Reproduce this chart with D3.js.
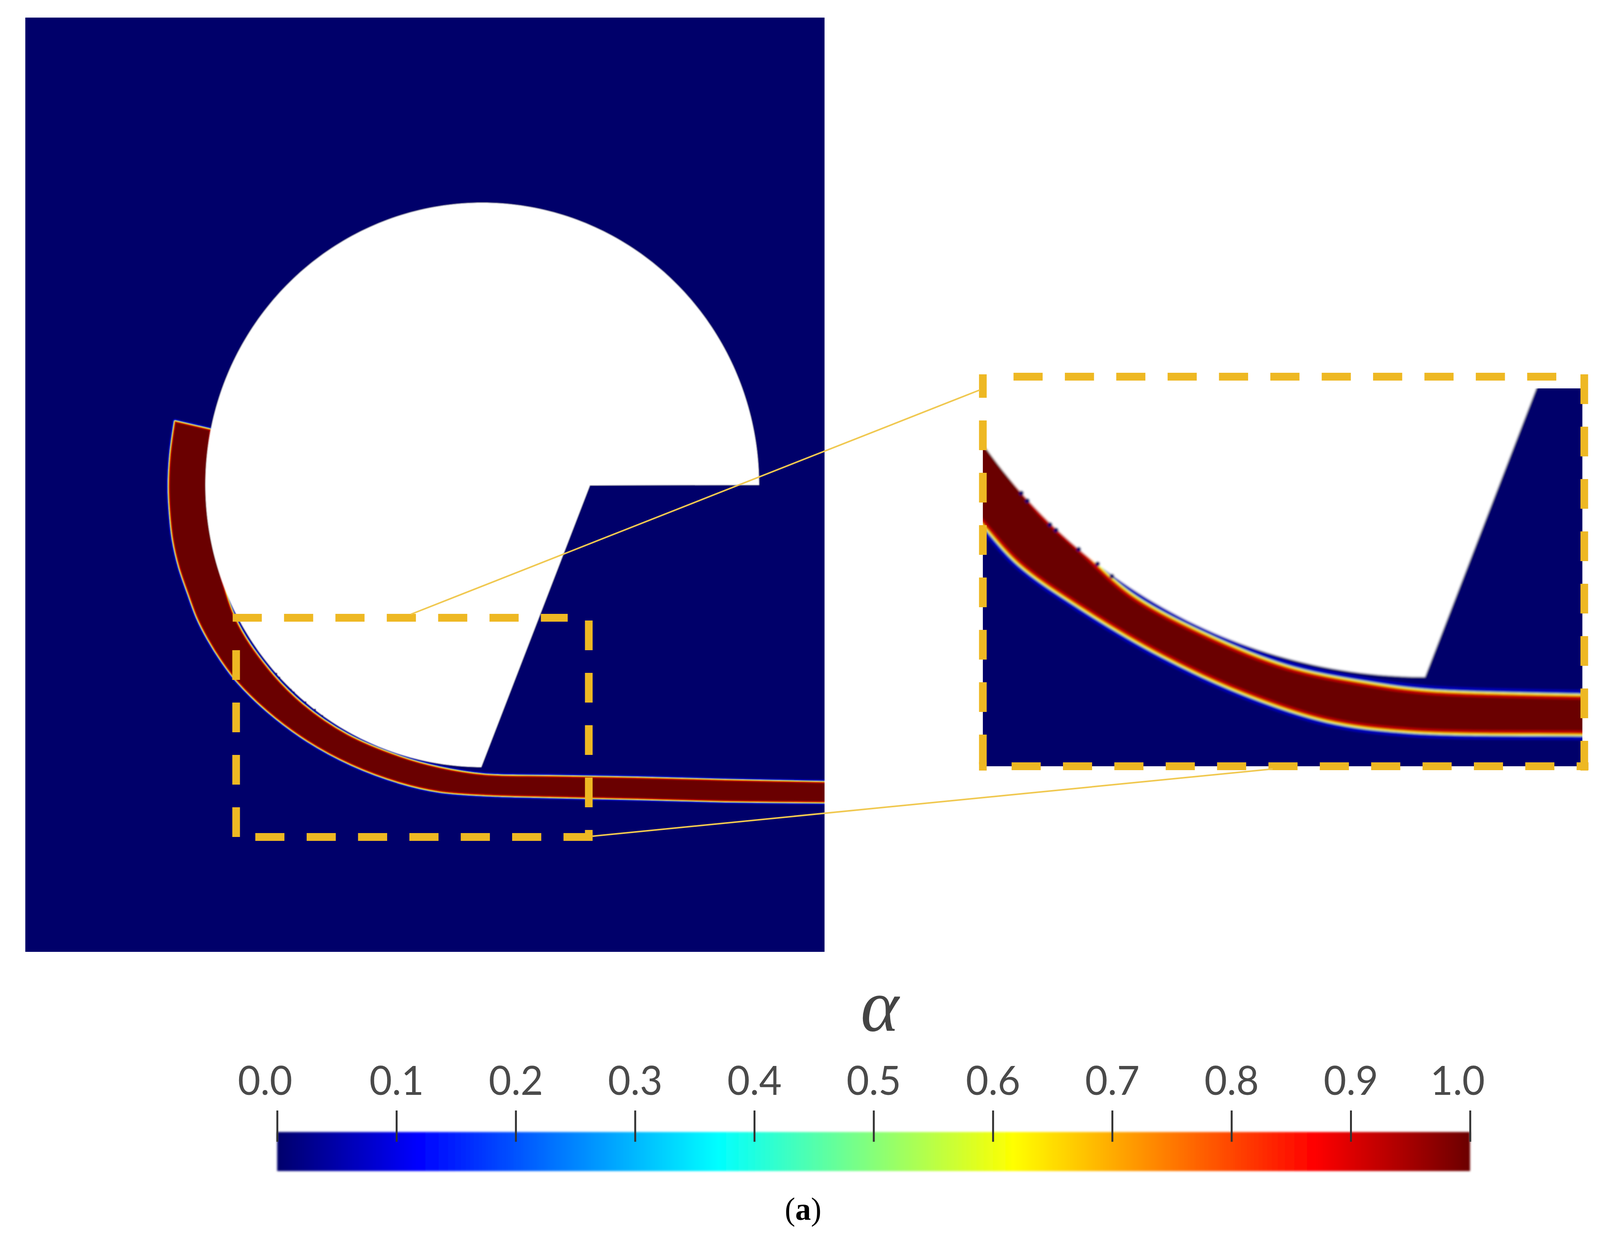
<!DOCTYPE html>
<html>
<head>
<meta charset="utf-8">
<script src="https://cdn.jsdelivr.net/npm/d3@7"></script>
<style>
    html, body { margin: 0; background: #fff; overflow: hidden; }
    svg { display: block; width: 100vw; height: 100vh; }
</style>
</head>
<body>
<script>
// picture size
var w = 4174;
var h = 3176;

// ---- data, in units (1 unit = width of the domain / 2085) ----

// colour map
var alphaStops = [0, 0.118, 0.37, 0.617, 0.87, 1];
var alphaColors = ["#00006b", "#0000ff", "#00ffff", "#ffff00", "#ff0000", "#6b0000"];
var tickValues = [0, 0.1, 0.2, 0.3, 0.4, 0.5, 0.6, 0.7, 0.8, 0.9, 1];

// domain
var domainWidth = 2085;
var domainHeight = 2391;

// the solid body: circle with a wedge cut out
var circleCx = 1192;
var circleCy = 1196;
var circleR = 722;
var arcStartDeg = 0;
var arcEndDeg = -269.8;
var notchX = [1473, 1915];
var notchY = [1197, 1196];

// liquid film edges, main view
var outerX = [391, 379, 375, 378, 386, 402, 426, 449, 477, 512, 552, 632, 736, 851, 977, 1080, 1195, 1367, 1597, 1826, 2120];
var outerY = [1034, 1120, 1200, 1266, 1337, 1406, 1475, 1536, 1590, 1645, 1697, 1774, 1850, 1911, 1957, 1980, 1989, 1994, 1999, 2005, 2008];
var innerX = [483, 472, 489, 546, 632, 724, 839, 977, 1080, 1195, 1367, 1597, 1826, 2120];
var innerY = [1055, 1200, 1337, 1536, 1666, 1758, 1835, 1892, 1920, 1938, 1942, 1946, 1952, 1958];

// liquid film edges as they stand in the zoomed view
var zoomOuterX = [570, 604, 653, 734, 843, 951, 1060, 1168, 1398, 1450];
var zoomOuterY = [1680, 1717, 1770, 1826, 1889, 1938, 1973, 1987, 1991, 1992];
var zoomInnerX = [560, 604, 680, 734, 799, 897, 1005, 1114, 1195, 1398, 1450];
var zoomInnerY = [1560, 1610, 1706, 1755, 1812, 1864, 1906, 1928, 1938, 1944, 1945];

// interface smear: alpha level and how far it reaches outside the film
var smearAlpha = [0.06, 0.2, 0.6, 0.75, 0.9];
var smearReach = [7, 3.6, 3, 1.4, 0.6];

// cyan streak under the film near the outlet
var streakAlpha = 0.36;
var streakX = [1900, 2120];
var streakY = [2009, 2011];
var zoomStreakX = [1341, 1400];
var zoomStreakY = [1997, 1997];

// rough spots on the wall of the solid
var roughX = [655, 663, 693, 701, 731, 756, 775];
var roughY = [1679, 1689, 1720, 1727, 1752, 1771, 1787];

// ---- scales ----
var color = d3.scaleLinear().domain(alphaStops).range(alphaColors);

var mainX = d3.scaleLinear().domain([0, domainWidth]).range([66, 2151]);
var mainY = d3.scaleLinear().domain([0, domainHeight]).range([45, 2436]);
var insetX = d3.scaleLinear().domain([604, 1398]).range([2564, 4128]);
var insetY = d3.scaleLinear().domain([1543, 2034]).range([994, 1961]);
var barX = d3.scaleLinear().domain([0, 1]).range([723, 3835]);

// the window can be narrower than the picture, so fit the whole picture to it
var svg = d3.select("body").append("svg")
    .attr("viewBox", "0 0 " + w + " " + h)
    .attr("preserveAspectRatio", "none");

var defs = svg.append("defs");

// the source is a soft photo, slight blur on the field
[["soft", 1.2], ["softer", 2.5], ["barSoft", 2.5]].forEach(function (f) {
    defs.append("filter")
        .attr("id", f[0])
        .attr("x", "-2%").attr("y", "-5%")
        .attr("width", "104%").attr("height", "110%")
        .append("feGaussianBlur")
        .attr("stdDeviation", f[1]);
});

// draws the blue domain, the film and the white solid through a pair of scales
function drawField(id, xs, ys, k, blur, oX, oY, iX, iY, sX, sY) {
    var x0 = xs.range()[0], x1 = xs.range()[1];
    var y0 = ys.range()[0], y1 = ys.range()[1];

    defs.append("clipPath").attr("id", id)
        .append("rect")
        .attr("x", x0).attr("y", y0)
        .attr("width", x1 - x0).attr("height", y1 - y0);

    var clipped = svg.append("g").attr("clip-path", "url(#" + id + ")");
    var g = clipped.append("g").attr("filter", "url(#" + blur + ")");

    g.append("rect")
        .attr("x", x0 - 20).attr("y", y0 - 20)
        .attr("width", x1 - x0 + 40).attr("height", y1 - y0 + 40)
        .attr("fill", color(0));

    var line = d3.line()
        .x(function (d) { return xs(d[0]); })
        .y(function (d) { return ys(d[1]); });
    var curve = d3.line()
        .x(function (d) { return xs(d[0]); })
        .y(function (d) { return ys(d[1]); })
        .curve(d3.curveCatmullRom);

    var outer = d3.zip(oX, oY);
    var inner = d3.zip(iX, iY).reverse();
    var film = curve(outer) + "L" + curve(inner).slice(1) + "Z";

    g.append("path")
        .attr("d", line(d3.zip(sX, sY)))
        .attr("fill", "none")
        .attr("stroke", color(streakAlpha))
        .attr("stroke-opacity", 0.7)
        .attr("stroke-width", 3.5 * k);

    // widest, lowest level first
    g.selectAll("path.smear")
        .data(smearAlpha)
        .enter()
        .append("path")
        .attr("class", "smear")
        .attr("d", film)
        .attr("fill", "none")
        .attr("stroke-linejoin", "round")
        .attr("stroke", function (d) { return color(d); })
        .attr("stroke-width", function (d, i) { return smearReach[i] * 2 * k; });

    g.append("path")
        .attr("d", film)
        .attr("fill", color(1));

    // brighter red just inside the interface
    defs.append("clipPath").attr("id", id + "Film")
        .append("path")
        .attr("d", film);
    g.append("path")
        .attr("clip-path", "url(#" + id + "Film)")
        .attr("d", film)
        .attr("fill", "none")
        .attr("stroke", color(0.93))
        .attr("stroke-width", 5 * k);

    // white solid goes over the film
    var angles = d3.range(arcStartDeg, arcEndDeg, -1).concat([arcEndDeg]);
    var solid = angles.map(function (a) {
        var t = a * Math.PI / 180;
        return [circleCx + circleR * Math.cos(t), circleCy + circleR * Math.sin(t)];
    }).concat(d3.zip(notchX, notchY));

    g.append("path")
        .attr("d", line(solid) + "Z")
        .attr("fill", "#fff");

    g.selectAll("circle.rough")
        .data(d3.zip(roughX, roughY))
        .enter()
        .append("circle")
        .attr("class", "rough")
        .attr("cx", function (d) { return xs(d[0]); })
        .attr("cy", function (d) { return ys(d[1]); })
        .attr("r", 2.5 * k)
        .attr("fill", color(0));
}

drawField("clipMain", mainX, mainY, 1, "soft", outerX, outerY, innerX, innerY, streakX, streakY);
drawField("clipInset", insetX, insetY, 2.5, "softer", zoomOuterX, zoomOuterY, zoomInnerX, zoomInnerY, zoomStreakX, zoomStreakY);

// ---- zoom boxes ----
var boxColor = "#eeb823";

// x1, y1, x2, y2, dash offset
var boxLines = [
    [607, 1581, 1481, 1581, 0],
    [1536, 1588, 1536, 2142, 0],
    [1546, 2142, 666, 2142, 0],
    [616, 2142, 616, 1640, 0],
    [2644, 964, 4064, 964, 0],
    [4133, 958, 4133, 1972, 0],
    [2639, 1961, 4120, 1961, 0],
    [2564, 958, 2564, 1972, 16]
];
svg.selectAll("line.box")
    .data(boxLines)
    .enter()
    .append("line")
    .attr("class", "box")
    .attr("x1", function (d) { return d[0]; })
    .attr("y1", function (d) { return d[1]; })
    .attr("x2", function (d) { return d[2]; })
    .attr("y2", function (d) { return d[3]; })
    .attr("stroke", boxColor)
    .attr("stroke-width", 20)
    .attr("stroke-dasharray", "76 58")
    .attr("stroke-dashoffset", function (d) { return d[4]; });

// corners the dash pattern misses
svg.append("line")
    .attr("x1", 2564).attr("y1", 1950).attr("x2", 2564).attr("y2", 1972)
    .attr("stroke", boxColor).attr("stroke-width", 20);
svg.append("line")
    .attr("x1", 4120).attr("y1", 1961).attr("x2", 4144).attr("y2", 1961)
    .attr("stroke", boxColor).attr("stroke-width", 20);

// connector lines
var connectors = [
    [1072, 1572, 2556, 998],
    [1546, 2140, 3320, 1968]
];
svg.selectAll("line.conn")
    .data(connectors)
    .enter()
    .append("line")
    .attr("class", "conn")
    .attr("x1", function (d) { return d[0]; })
    .attr("y1", function (d) { return d[1]; })
    .attr("x2", function (d) { return d[2]; })
    .attr("y2", function (d) { return d[3]; })
    .attr("stroke", "#f0c850")
    .attr("stroke-width", 4);

// ---- colour bar ----
var grad = defs.append("linearGradient").attr("id", "jet");
grad.selectAll("stop")
    .data(alphaStops)
    .enter()
    .append("stop")
    .attr("offset", function (d) { return d; })
    .attr("stop-color", function (d) { return color(d); });

svg.append("rect")
    .attr("x", barX(0))
    .attr("y", 2897)
    .attr("width", barX(1) - barX(0))
    .attr("height", 100)
    .attr("fill", "url(#jet)")
    .attr("filter", "url(#barSoft)");

var axis = d3.axisTop(barX)
    .tickValues(tickValues)
    .tickFormat(d3.format(".1f"))
    .tickSize(80)
    .tickPadding(40);

var axisG = svg.append("g")
    .attr("transform", "translate(0,2922)")
    .call(axis);

axisG.select(".domain").remove();
axisG.selectAll(".tick line")
    .attr("stroke", "#333")
    .attr("stroke-width", 5);
axisG.selectAll(".tick text")
    .attr("font-family", "Lato")
    .attr("font-size", 102)
    .attr("fill", "#4a4a4a")
    .attr("dx", function (d) { return d === 0 ? -32 : (d === 1 ? -33 : 0); });

svg.append("text")
    .attr("x", 2295)
    .attr("y", 2638)
    .attr("text-anchor", "middle")
    .attr("font-family", "Liberation Serif")
    .attr("font-style", "italic")
    .attr("font-size", 190)
    .attr("fill", "#444")
    .text("α");

// panel caption
var caption = svg.append("text")
    .attr("x", 2095)
    .attr("y", 3122)
    .attr("text-anchor", "middle")
    .attr("font-family", "Liberation Serif")
    .attr("font-size", 82)
    .attr("fill", "#000");
caption.append("tspan").text("(");
caption.append("tspan").attr("font-weight", "bold").text("a");
caption.append("tspan").text(")");
</script>
</body>
</html>
